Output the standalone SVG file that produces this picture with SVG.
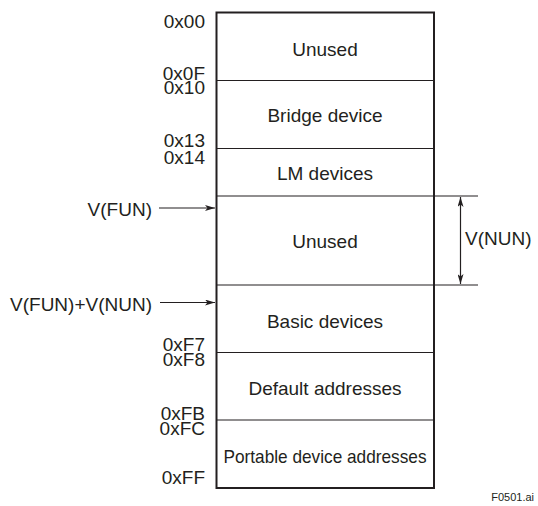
<svg xmlns="http://www.w3.org/2000/svg" width="538" height="506" viewBox="0 0 538 506">
<style>
text{font-family:"Liberation Sans",Arial,sans-serif;font-size:19px;fill:#231f20}
.hex{text-anchor:end}
.lbl{text-anchor:middle}
.div{stroke:#231f20;stroke-width:1.2;fill:none}
.con{stroke:#231f20;stroke-width:1.2;fill:none}
</style>
<defs>
<marker id="ah" viewBox="0 0 10 6" refX="10" refY="3" markerWidth="10" markerHeight="6" markerUnits="userSpaceOnUse" orient="auto-start-reverse">
<path d="M0,0 L10,3 L0,6 L2.5,3 Z" fill="#231f20"/>
</marker>
</defs>
<rect x="0" y="0" width="538" height="506" fill="#fff"/>
<g id="map">
<rect x="216.5" y="12.5" width="217.5" height="475.5" fill="#fff" stroke="#231f20" stroke-width="2"/>
</g>
<g id="seg-unused1">
<text class="lbl" x="325" y="56">Unused</text>
<line class="div" x1="216" y1="80.5" x2="434" y2="80.5"/>
</g>
<g id="seg-bridge">
<text class="lbl" x="325" y="122">Bridge device</text>
<line class="div" x1="216" y1="148.5" x2="434" y2="148.5"/>
</g>
<g id="seg-lm">
<text class="lbl" x="325" y="180">LM devices</text>
<line class="div" x1="216" y1="196" x2="478" y2="196"/>
</g>
<g id="seg-unused2">
<text class="lbl" x="325" y="248">Unused</text>
<line class="div" x1="216" y1="285" x2="478" y2="285"/>
</g>
<g id="seg-basic">
<text class="lbl" x="325" y="328">Basic devices</text>
<line class="div" x1="216" y1="352.5" x2="434" y2="352.5"/>
</g>
<g id="seg-default">
<text class="lbl" x="325" y="395">Default addresses</text>
<line class="div" x1="216" y1="420" x2="434" y2="420"/>
</g>
<g id="seg-portable">
<text class="lbl" x="325" y="463" textLength="203" lengthAdjust="spacingAndGlyphs">Portable device addresses</text>
</g>
<g id="hex-labels">
<text class="hex" x="205" y="28">0x00</text>
<text class="hex" x="205" y="80">0x0F</text>
<text class="hex" x="205" y="93.5">0x10</text>
<text class="hex" x="205" y="147">0x13</text>
<text class="hex" x="205" y="164">0x14</text>
<text class="hex" x="205" y="351">0xF7</text>
<text class="hex" x="205" y="366">0xF8</text>
<text class="hex" x="205" y="420">0xFB</text>
<text class="hex" x="205" y="435">0xFC</text>
<text class="hex" x="205" y="484">0xFF</text>
</g>
<g id="vfun">
<text class="hex" x="152" y="216">V(FUN)</text>
</g>
<g id="vfunnun">
<text class="hex" x="152" y="311">V(FUN)+V(NUN)</text>
</g>
<g id="vnun">
<text x="465" y="245">V(NUN)</text>
</g>
<g id="connectors">
<line class="con" x1="159" y1="208" x2="215" y2="208" marker-end="url(#ah)"/>
<line class="con" x1="160" y1="302.5" x2="215" y2="302.5" marker-end="url(#ah)"/>
<line class="con" x1="460.5" y1="197" x2="460.5" y2="284" marker-start="url(#ah)" marker-end="url(#ah)"/>
</g>
<text x="534" y="501" style="font-size:11px;text-anchor:end">F0501.ai</text>
</svg>
